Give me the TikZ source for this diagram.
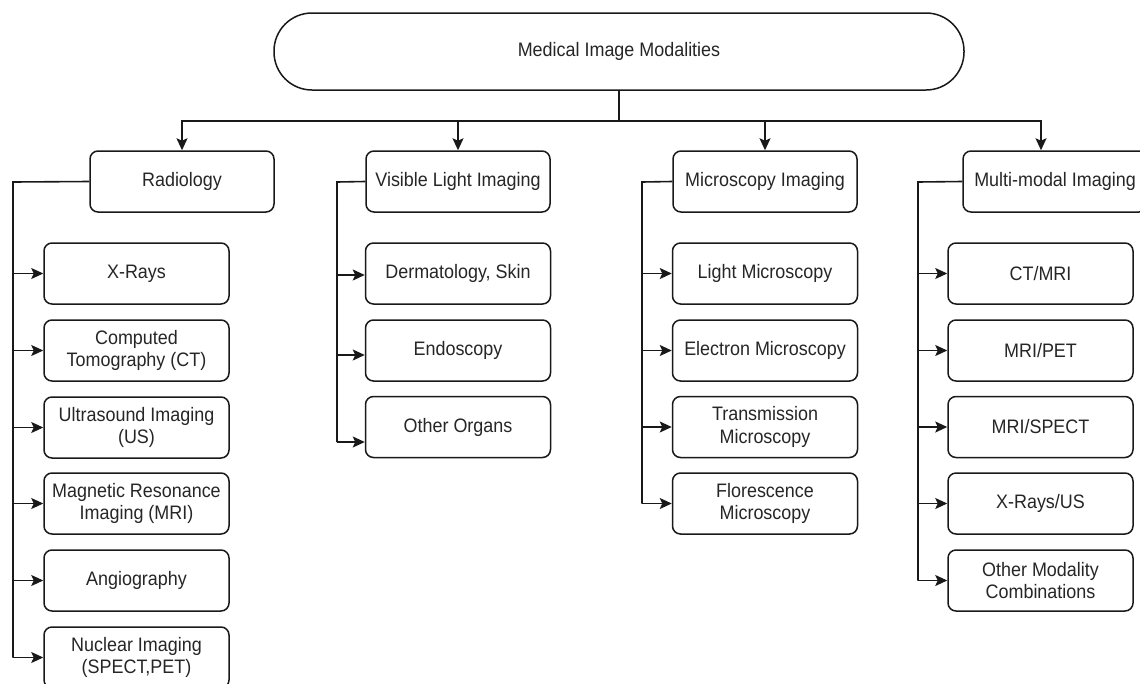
\documentclass[tikz,border=0pt]{standalone}
\usepackage{fontspec}
\setmainfont{Liberation Sans}[FakeStretch=0.92]
\usetikzlibrary{arrows.meta,calc}
\tikzset{
  box/.style={draw=black!90, rounded corners=8, minimum width=184, minimum height=61,
    align=center, inner sep=0, line width=1.5, text=black!85,
    font=\fontsize{19.5}{22.5}\selectfont},
  kid/.style={box, minimum width=185},
  topbox/.style={box, rounded corners=38, minimum width=690, minimum height=77},
  link/.style={line width=1.6, draw=black!90},
  arr/.style={link, -{Stealth[length=12pt,width=11pt,inset=2.5pt]}}
}
\begin{document}
\begin{tikzpicture}[x=1pt,y=-1pt]
\clip (0,0) rectangle (1140,683);
\fill[white] (0,0) rectangle (1140,683);

\node[topbox] (top) at (619,51.5) {Medical Image Modalities};

\node[box] (rad) at (182,181.5) {Radiology};
\node[box] (vis) at (458,181.5) {Visible Light Imaging};
\node[box] (mic) at (765,181.5) {Microscopy Imaging};
\node[box] (mm)  at (1055,181.5) {Multi-modal Imaging};

\coordinate (bus) at (619,121);
\draw[link] (top.south) -- (bus);
\draw[arr] (bus) -| (rad.north);
\draw[arr] (bus) -| (vis.north);
\draw[arr] (bus) -| (mic.north);
\draw[arr] (bus) -| ([xshift=-14pt]mm.north);

% Radiology
\node[kid] (r1) at (136.5,273.5) {X-Rays};
\node[kid] (r2) at (136.5,350.5) {Computed\\Tomography (CT)};
\node[kid] (r3) at (136.5,427.5) {Ultrasound Imaging\\(US)};
\node[kid] (r4) at (136.5,503.5) {Magnetic Resonance\\Imaging (MRI)};
\node[kid] (r5) at (136.5,580.5) {Angiography};
\node[kid] (r6) at (136.5,657.5) {Nuclear Imaging\\(SPECT,PET)};
\coordinate (rt) at (13,182);
\draw[link] (rad.west) -- (rt) -- (rt |- r6.west);
\foreach \k in {r1,r2,r3,r4,r5,r6} \draw[arr] (rt |- \k.west) -- (\k.west);

% Visible light
\node[kid] (v1) at (458,273.5) {Dermatology, Skin};
\node[kid] (v2) at (458,350.5) {Endoscopy};
\node[kid] (v3) at (458,427) {Other Organs};
\coordinate (vt) at (337,182);
\coordinate (va1) at ([yshift=-1.5pt]v1.west);
\coordinate (va2) at ([yshift=-4.5pt]v2.west);
\coordinate (va3) at ([yshift=-15pt]v3.west);
\draw[link] (vis.west) -- (vt) -- (vt |- va3);
\foreach \k in {va1,va2,va3} \draw[arr] (vt |- \k) -- (\k);

% Microscopy
\node[kid] (m1) at (765,273.5) {Light Microscopy};
\node[kid] (m2) at (765,350.5) {Electron Microscopy};
\node[kid] (m3) at (765,427) {Transmission\\Microscopy};
\node[kid] (m4) at (765,503.5) {Florescence\\Microscopy};
\coordinate (mt) at (642,182);
\draw[link] (mic.west) -- (mt) -- (mt |- m4.west);
\foreach \k in {m1,m2,m3,m4} \draw[arr] (mt |- \k.west) -- (\k.west);

% Multi-modal
\node[kid] (x1) at (1040.5,273.5) {CT/MRI};
\node[kid] (x2) at (1040.5,350.5) {MRI/PET};
\node[kid] (x3) at (1040.5,427) {MRI/SPECT};
\node[kid] (x4) at (1040.5,503.5) {X-Rays/US};
\node[kid] (x5) at (1040.5,580.5) {Other Modality\\Combinations};
\coordinate (xt) at (918,182);
\draw[link] (mm.west) -- (xt) -- (xt |- x5.west);
\foreach \k in {x1,x2,x3,x4,x5} \draw[arr] (xt |- \k.west) -- (\k.west);
\end{tikzpicture}
\end{document}
